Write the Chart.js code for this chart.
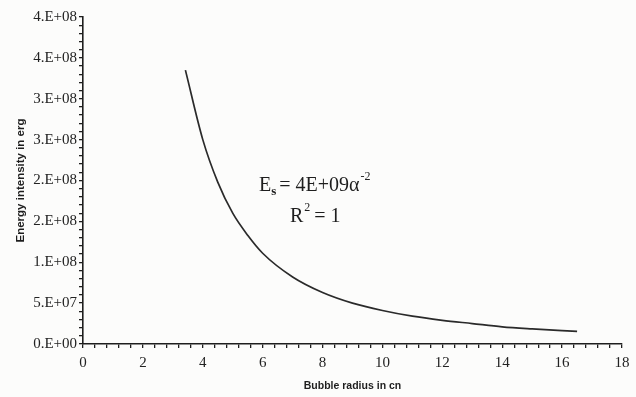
<!DOCTYPE html>
<html>
<head>
<meta charset="utf-8">
<script src="https://cdn.jsdelivr.net/npm/chart.js@4"></script>
<style>
  html, body { margin: 0; padding: 0; background: #fcfcfb; }
  #wrap { width: 636px; height: 397px; }
</style>
</head>
<body>
<div id="wrap"><canvas id="bubbleChart" width="636" height="397"></canvas></div>
<script>
// values
var radius = [3.42, 4, 4.5, 5, 5.5, 6, 7, 8, 9, 10, 11, 12, 13, 14, 15, 16.5];
var energy = [3.35e8, 2.5e8, 1.98e8, 1.6e8, 1.33e8, 1.11e8, 8.2e7, 6.3e7, 5.0e7, 4.1e7, 3.4e7, 2.9e7, 2.5e7, 2.1e7, 1.85e7, 1.55e7];

// excel "0.E+00" style labels, one for every 5e7
var yTickLabels = ['0.E+00', '5.E+07', '1.E+08', '2.E+08', '2.E+08', '3.E+08', '3.E+08', '4.E+08', '4.E+08'];
var xTickLabels = ['0', '2', '4', '6', '8', '10', '12', '14', '16', '18'];

var points = radius.map(function (r, i) { return { x: r, y: energy[i] }; });

// fit equation written on the plot
var fitText = {
    id: 'fitText',
    afterDraw: function (chart) {
        var c = chart.ctx;
        var big = '20px "Liberation Serif"';
        var small = '12px "Liberation Serif"';
        c.save();
        c.fillStyle = '#1e1e1e';
        c.textBaseline = 'alphabetic';
        // line 1
        var x = 259, y = 191;
        c.font = big; c.fillText('E', x, y); x += c.measureText('E').width;
        c.font = 'bold 13px "Liberation Serif"'; c.fillText('s', x, y + 4); x += c.measureText('s').width + 3;
        c.font = big; c.fillText('= 4E+09\u03b1', x, y); x += c.measureText('= 4E+09\u03b1').width;
        c.font = small; c.fillText('-2', x + 1, y - 11);
        // line 2
        x = 290; y = 222;
        c.font = big; c.fillText('R', x, y); x += c.measureText('R').width;
        c.font = small; c.fillText('2', x + 1, y - 11); x += c.measureText('2').width + 5;
        c.font = big; c.fillText('= 1', x, y);
        c.restore();
    }
};

var ctx = document.getElementById('bubbleChart').getContext('2d');
var bubbleChart = new Chart(ctx, {
    type: 'scatter',
    data: {
        datasets: [{
            data: points,
            showLine: true,
            borderColor: '#2a2a2a',
            borderWidth: 1.7,
            pointRadius: 0,
            cubicInterpolationMode: 'monotone'
        }]
    },
    options: {
        responsive: false,
        animation: false,
        layout: { padding: { top: 17, right: 14, left: 0, bottom: 3 } },
        plugins: { legend: { display: false }, tooltip: { enabled: false } },
        scales: {
            x: {
                type: 'linear',
                min: 0,
                max: 18,
                border: { color: '#1e1e1e', width: 1.6 },
                grid: { drawOnChartArea: false, tickLength: 4, color: '#1e1e1e', lineWidth: 1.3 },
                ticks: {
                    stepSize: 0.4,
                    autoSkip: false,
                    maxRotation: 0,
                    padding: 6,
                    color: '#222',
                    font: { family: 'Liberation Serif', size: 15 },
                    callback: function (v) {
                        var k = v / 2;
                        if (Math.abs(k - Math.round(k)) < 1e-6) return xTickLabels[Math.round(k)];
                        return '';
                    }
                },
                title: {
                    display: true,
                    text: 'Bubble radius in cn',
                    color: '#1e1e1e',
                    font: { family: 'Liberation Sans', size: 10.5, weight: 'bold' },
                    padding: { top: 0, bottom: 2 }
                },
                afterFit: function (scale) { scale.height = 50; }
            },
            y: {
                min: 0,
                max: 4e8,
                border: { color: '#1e1e1e', width: 1.6 },
                grid: { drawOnChartArea: false, tickLength: 4, color: '#1e1e1e', lineWidth: 1.3 },
                ticks: {
                    stepSize: 1e7,
                    autoSkip: false,
                    padding: 2,
                    color: '#222',
                    font: { family: 'Liberation Serif', size: 15 },
                    callback: function (v) {
                        var k = v / 5e7;
                        if (Math.abs(k - Math.round(k)) < 1e-6) return yTickLabels[Math.round(k)];
                        return '';
                    }
                },
                title: {
                    display: true,
                    text: 'Energy intensity in erg',
                    color: '#1e1e1e',
                    font: { family: 'Liberation Sans', size: 11.5, weight: 'bold' },
                    padding: { top: 14 }
                },
                afterFit: function (scale) { scale.width = 83; }
            }
        }
    },
    plugins: [fitText]
});
</script>
</body>
</html>
